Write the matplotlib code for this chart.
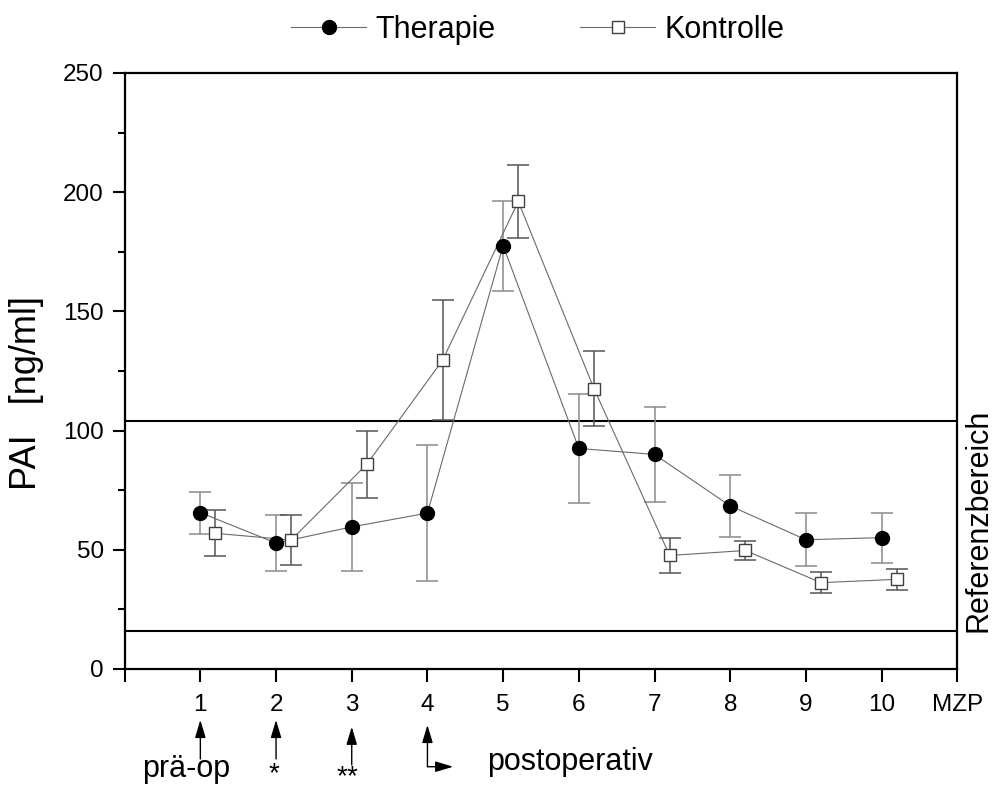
import matplotlib
matplotlib.use("Agg")
import matplotlib.pyplot as plt
import matplotlib.transforms as mtransforms
from matplotlib.lines import Line2D

plt.rcParams['font.family'] = ['Liberation Sans', 'DejaVu Sans']
plt.rcParams['mathtext.fontset'] = 'custom'
plt.rcParams['mathtext.rm'] = 'Liberation Sans'

# Messzeitpunkte (MZP) und Mittelwerte / Fehler PAI [ng/ml]
mzp = [1, 2, 3, 4, 5, 6, 7, 8, 9, 10]
therapie = [65.6, 52.8, 59.6, 65.4, 177.6, 92.5, 90.0, 68.4, 54.2, 55.1]
therapie_err = [8.8, 11.8, 18.6, 28.5, 18.9, 22.7, 19.8, 12.9, 11.2, 10.5]
kontrolle = [56.9, 54.1, 85.9, 129.5, 196.1, 117.6, 47.6, 49.7, 36.2, 37.6]
kontrolle_err = [9.7, 10.4, 14.0, 25.2, 15.5, 15.6, 7.4, 4.0, 4.5, 4.4]
ref_low, ref_high = 16, 104
xtick_labels = ['', '1', '2', '3', '4', '5', '6', '7', '8', '9', '10', 'MZP']

fig = plt.figure(figsize=(9.94, 7.9), dpi=100)
ax = fig.add_axes([0.1254, 0.1532, 0.8377, 0.7544])

# Kontrolle leicht nach rechts versetzt
x_k = [x + 0.2 for x in mzp]

ax.errorbar(mzp, therapie, yerr=therapie_err, fmt='none', ecolor='#8a8a8a',
            elinewidth=1.1, capsize=8, capthick=1.1, zorder=2)
ax.plot(mzp, therapie, '-', color='#6a6a6a', lw=0.8, zorder=3)
ax.plot(mzp, therapie, 'o', ms=10, mfc='black', mec='black', zorder=4)

ax.errorbar(x_k, kontrolle, yerr=kontrolle_err, fmt='none', ecolor='#555555',
            elinewidth=1.1, capsize=8, capthick=1.1, zorder=2)
ax.plot(x_k, kontrolle, '-', color='#6a6a6a', lw=0.8, zorder=3)
ax.plot(x_k, kontrolle, 's', ms=8.5, mfc='white', mec='#404040', mew=1.0, zorder=4)

# Referenzbereich
ax.axhline(ref_high, color='black', lw=1.5, zorder=1)
ax.axhline(ref_low, color='black', lw=1.5, zorder=1)
trans = mtransforms.blended_transform_factory(ax.transAxes, ax.transData)
ax.text(1.026, (ref_low + ref_high) / 2 + 2.5, 'Referenzbereich', transform=trans,
        rotation=90, ha='center', va='center', fontsize=22)

ax.set_xlim(0, 11)
ax.set_ylim(0, 250)
ax.set_xticks(range(0, 12))
ax.set_xticklabels(xtick_labels)
ax.set_yticks(range(0, 251, 50))
ax.set_yticks(range(25, 250, 50), minor=True)
ax.tick_params(axis='both', which='major', direction='out', length=9, width=1.5,
               labelsize=17.5)
ax.tick_params(axis='x', which='major', pad=9)
ax.tick_params(axis='y', which='major', pad=6)
ax.tick_params(axis='y', which='minor', direction='out', length=5, width=1.5)
for sp in ax.spines.values():
    sp.set_linewidth(1.6)

fig.text(27 / 994, 1 - 393 / 790, 'PAI   [ng/ml]', rotation=90, ha='center',
         va='center', fontsize=26)

# Pfeile unter der x-Achse
xt = ax.get_xaxis_transform()
arrow = dict(arrowstyle='-|>,head_length=0.6,head_width=0.18', color='black', lw=1.0,
             mutation_scale=18, shrinkA=0, shrinkB=0)
ax.annotate('', xy=(1, -0.0856), xytext=(1, -0.151), xycoords=xt, textcoords=xt,
            arrowprops=arrow, annotation_clip=False)
ax.annotate('', xy=(2, -0.0856), xytext=(2, -0.151), xycoords=xt, textcoords=xt,
            arrowprops=arrow, annotation_clip=False)
ax.annotate('', xy=(3, -0.097), xytext=(3, -0.161), xycoords=xt, textcoords=xt,
            arrowprops=arrow, annotation_clip=False)
ax.annotate('', xy=(4, -0.094), xytext=(4, -0.164), xycoords=xt, textcoords=xt,
            arrowprops=arrow, annotation_clip=False)
ax.annotate('', xy=(4.34, -0.164), xytext=(4, -0.164), xycoords=xt, textcoords=xt,
            arrowprops=arrow, annotation_clip=False)

ax.text(0.81, -0.181, 'prä-op', transform=xt, ha='center', va='baseline', fontsize=22)
ax.text(1.975, -0.175, r'$\mathregular{*}$', transform=xt, ha='center', va='center', fontsize=20)
ax.text(2.95, -0.18, r'$\mathregular{{*}{*}}$', transform=xt, ha='center', va='center', fontsize=20)
ax.text(4.79, -0.1695, 'postoperativ', transform=xt, ha='left', va='baseline', fontsize=22)

handles = [Line2D([], [], color='#6a6a6a', lw=0.8, marker='o', ms=10, mfc='black', mec='black'),
           Line2D([], [], color='#6a6a6a', lw=0.8, marker='s', ms=8.5, mfc='white', mec='#404040')]
fig.legend(handles, ['Therapie', 'Kontrolle'], loc='center', bbox_to_anchor=(538 / 994, 1 - 30 / 790),
           ncol=2, frameon=False, fontsize=22, handlelength=2.45, handletextpad=0.32,
           columnspacing=2.76)

fig.savefig('out.png', dpi=100)
